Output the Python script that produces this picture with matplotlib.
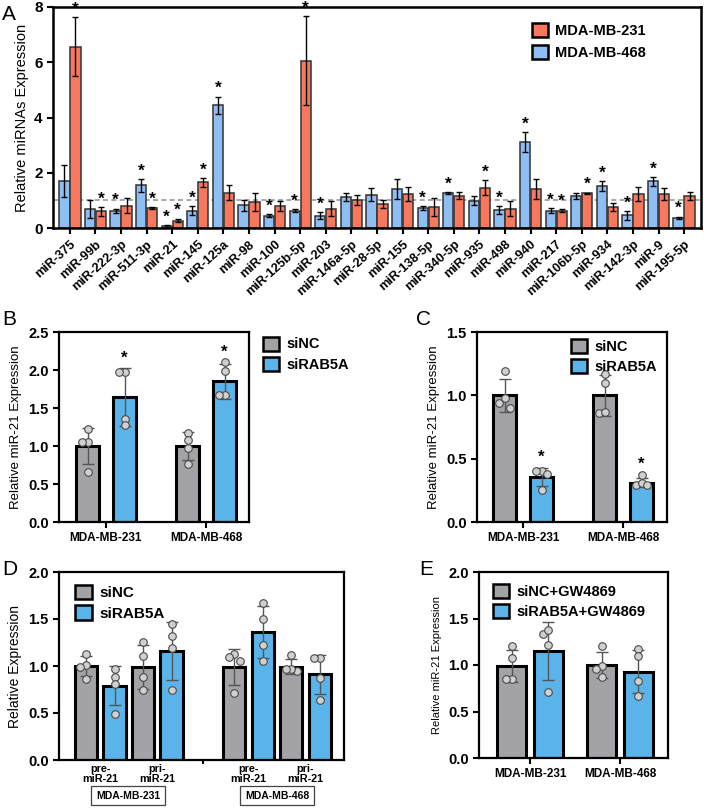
import matplotlib
matplotlib.use("Agg")
import matplotlib.pyplot as plt
from matplotlib.patches import Patch
from matplotlib.transforms import blended_transform_factory
import numpy as np

plt.rcParams['font.family'] = ['Liberation Sans', 'DejaVu Sans']

# ---------------- Panel A data ----------------
mirnas = ["miR-375", "miR-99b", "miR-222-3p", "miR-511-3p", "miR-21", "miR-145", "miR-125a",
          "miR-98", "miR-100", "miR-125b-5p", "miR-203", "miR-146a-5p", "miR-28-5p", "miR-155",
          "miR-138-5p", "miR-340-5p", "miR-935", "miR-498", "miR-940", "miR-217", "miR-106b-5p",
          "miR-934", "miR-142-3p", "miR-9", "miR-195-5p"]
mb468_vals = [1.69, 0.69, 0.63, 1.54, 0.08, 0.63, 4.44, 0.82, 0.45, 0.63, 0.45, 1.12, 1.21, 1.42,
              0.72, 1.27, 0.99, 0.66, 3.11, 0.63, 1.17, 1.51, 0.46, 1.69, 0.36]
mb468_err = [0.58, 0.33, 0.07, 0.24, 0.035, 0.17, 0.32, 0.21, 0.06, 0.05, 0.12, 0.16, 0.23, 0.36,
             0.08, 0.035, 0.16, 0.14, 0.36, 0.08, 0.11, 0.18, 0.16, 0.16, 0.05]
mb231_vals = [6.57, 0.60, 0.81, 0.72, 0.27, 1.65, 1.27, 0.94, 0.78, 6.06, 0.70, 1.03, 0.87, 1.23,
              0.76, 1.17, 1.45, 0.70, 1.41, 0.63, 1.25, 0.75, 1.23, 1.24, 1.16]
mb231_err = [1.05, 0.15, 0.28, 0.035, 0.07, 0.15, 0.27, 0.32, 0.18, 1.6, 0.26, 0.18, 0.16, 0.27,
             0.33, 0.13, 0.27, 0.28, 0.36, 0.06, 0.025, 0.15, 0.27, 0.22, 0.13]
mb468_sig = [0, 0, 1, 1, 1, 1, 1, 0, 1, 1, 1, 0, 0, 0, 1, 1, 0, 1, 1, 1, 0, 1, 1, 1, 1]
mb231_sig = [1, 1, 0, 1, 1, 1, 0, 0, 0, 1, 0, 0, 0, 0, 0, 0, 1, 0, 0, 1, 1, 0, 0, 0, 0]

# ---------------- Panel B data ----------------
cells = ["MDA-MB-231", "MDA-MB-468"]
b_nc_mean = [1.00, 1.00]
b_nc_sd = [0.24, 0.18]
b_nc_pts = [[1.23, 1.05, 1.05, 0.66], [1.17, 1.08, 0.98, 0.76]]
b_si_mean = [1.64, 1.85]
b_si_sd = [0.38, 0.23]
b_si_pts = [[1.97, 1.97, 1.35, 1.28], [2.10, 1.99, 1.67, 1.67]]

# ---------------- Panel C data ----------------
c_nc_mean = [1.00, 1.00]
c_nc_sd = [0.13, 0.16]
c_nc_pts = [[1.19, 0.98, 0.94, 0.90], [1.17, 1.10, 0.86, 0.87]]
c_si_mean = [0.355, 0.31]
c_si_sd = [0.07, 0.035]
c_si_pts = [[0.40, 0.38, 0.40, 0.25], [0.37, 0.29, 0.31, 0.29]]

# ---------------- Panel D data ----------------
d_groups = ["pre-\nmiR-21", "pri-\nmiR-21", "pre-\nmiR-21", "pri-\nmiR-21"]
d_cells = ["MDA-MB-231", "MDA-MB-468"]
d_nc_mean = [1.00, 0.99, 0.99, 0.99]
d_nc_sd = [0.11, 0.23, 0.19, 0.08]
d_nc_pts = [[1.13, 1.01, 0.99, 0.86], [1.26, 1.11, 0.88, 0.74], [1.13, 1.05, 1.10, 0.71],
            [1.12, 0.95, 0.97, 0.97]]
d_si_mean = [0.79, 1.16, 1.36, 0.91]
d_si_sd = [0.21, 0.31, 0.28, 0.21]
d_si_pts = [[0.97, 0.88, 0.81, 0.49], [1.45, 1.32, 1.19, 0.74], [1.67, 1.50, 1.22, 1.05],
            [1.09, 1.09, 0.87, 0.64]]

# ---------------- Panel E data ----------------
e_nc_mean = [0.99, 1.00]
e_nc_sd = [0.17, 0.14]
e_nc_pts = [[1.20, 1.07, 0.85, 0.85], [1.20, 0.99, 0.96, 0.87]]
e_si_mean = [1.15, 0.93]
e_si_sd = [0.31, 0.23]
e_si_pts = [[1.33, 1.38, 1.22, 0.71], [1.17, 1.10, 0.83, 0.67]]

RED = "#F7785C"
LBLUE = "#8DBFF5"
GRAY = "#A3A3A7"
BLUE = "#5AB4E9"
PT_FACE = "#D0D0D0"
PT_EDGE = "#4A4A4A"

W, H = 704, 810
fig = plt.figure(figsize=(W / 100, H / 100), dpi=100)


def add_ax(x0, y0, x1, y1):
    return fig.add_axes([x0 / W, 1 - y1 / H, (x1 - x0) / W, (y1 - y0) / H])


def style_box(ax, lw=1.8):
    for s in ax.spines.values():
        s.set_linewidth(lw)
        s.set_color("black")


def swarm_offsets(vals, step):
    vals = np.asarray(vals, dtype=float)
    offs = np.zeros(len(vals))
    order = np.argsort(-vals)
    placed = []
    for i in order:
        near = [j for j in placed if abs(vals[j] - vals[i]) < 0.06]
        if near:
            cand = [step * m for m in (-1, 1, -2, 2, 0)]
            used = [offs[j] for j in near]
            for c in cand:
                if all(abs(c - u) > step * 0.9 for u in used):
                    offs[i] = c
                    break
        placed.append(i)
    return offs


def bars_with_points(ax, xs, means, sds, pts, color, width, step):
    ax.bar(xs, means, width=width, color=color, edgecolor="black", linewidth=2.2, zorder=2)
    ax.errorbar(xs, means, yerr=sds, fmt="none", ecolor="#555555", elinewidth=1.0,
                capsize=4.5, capthick=1.0, zorder=3)
    for x, p in zip(xs, pts):
        offs = swarm_offsets(p, step)
        ax.scatter(x + offs, p, s=30, facecolor=PT_FACE, edgecolor=PT_EDGE,
                   linewidth=0.8, zorder=4)


def small_legend(ax, labels, loc, anchor=None, fs=10.5):
    handles = [Patch(facecolor=GRAY, edgecolor="black", linewidth=1.8),
               Patch(facecolor=BLUE, edgecolor="black", linewidth=1.8)]
    kw = dict(frameon=False, handlelength=1.1, handleheight=1.1, handletextpad=0.5,
              labelspacing=0.35, borderaxespad=0.3,
              prop={"weight": "bold", "size": fs})
    if anchor is not None:
        kw["bbox_to_anchor"] = anchor
    return ax.legend(handles, labels, loc=loc, **kw)


def bold_yticks(ax, size=10.5):
    ax.tick_params(axis="y", labelsize=size, width=1.5, length=4)
    for lab in ax.get_yticklabels():
        lab.set_fontweight("bold")


# ================= Panel A =================
axA = add_ax(53, 7, 701, 228)
n = len(mirnas)
xg = np.arange(n)
bw = 0.40
off = 0.215
axA.bar(xg - off, mb468_vals, width=bw, color=LBLUE, edgecolor="#333333", linewidth=1.1, zorder=2)
axA.bar(xg + off, mb231_vals, width=bw, color=RED, edgecolor="#333333", linewidth=1.1, zorder=2)
axA.errorbar(xg - off, mb468_vals, yerr=mb468_err, fmt="none", ecolor="black", elinewidth=1.0,
             capsize=2.5, capthick=1.0, zorder=3)
axA.errorbar(xg + off, mb231_vals, yerr=mb231_err, fmt="none", ecolor="black", elinewidth=1.0,
             capsize=2.5, capthick=1.0, zorder=3)
for i in range(n):
    if mb468_sig[i]:
        axA.text(xg[i] - off, mb468_vals[i] + mb468_err[i] + 0.02, "*", ha="center", va="bottom",
                 fontsize=12.5, fontweight="bold")
    if mb231_sig[i]:
        axA.text(xg[i] + off, mb231_vals[i] + mb231_err[i] + 0.02, "*", ha="center", va="bottom",
                 fontsize=12.5, fontweight="bold")
axA.axhline(1.0, color="#9A9A9A", linestyle=(0, (3, 2)), linewidth=1.2, zorder=1)
axA.set_xlim(-0.66, n - 1 + 0.66)
axA.set_ylim(0, 8)
axA.set_yticks([0, 2, 4, 6, 8])
axA.set_xticks(xg)
axA.set_xticklabels(mirnas, rotation=42, ha="right", rotation_mode="anchor", fontsize=9.2,
                    fontweight="bold")
axA.tick_params(axis="x", width=1.5, length=4)
bold_yticks(axA, 11)
axA.set_ylabel("Relative miRNAs Expression", fontsize=10.5, labelpad=4)
style_box(axA, 1.8)
hA = [Patch(facecolor=RED, edgecolor="black", linewidth=1.8),
      Patch(facecolor=LBLUE, edgecolor="black", linewidth=1.8)]
axA.legend(hA, ["MDA-MB-231", "MDA-MB-468"], loc="upper right", bbox_to_anchor=(0.935, 0.985),
           frameon=False, handlelength=1.1, handleheight=1.1, handletextpad=0.5,
           labelspacing=0.45, prop={"weight": "bold", "size": 10.5})

# ================= Panel B =================
axB = add_ax(59, 332, 249, 522)
gx = np.arange(2)
bars_with_points(axB, gx - 0.185, b_nc_mean, b_nc_sd, b_nc_pts, GRAY, 0.23, 0.055)
bars_with_points(axB, gx + 0.185, b_si_mean, b_si_sd, b_si_pts, BLUE, 0.23, 0.055)
for i in range(2):
    top = max(b_si_mean[i] + b_si_sd[i], max(b_si_pts[i]))
    axB.text(gx[i] + 0.185, top + 0.04, "*", ha="center", va="bottom", fontsize=12, fontweight="bold")
axB.set_xlim(-0.47, 1.43)
axB.set_ylim(0, 2.5)
axB.set_yticks([0, 0.5, 1.0, 1.5, 2.0, 2.5])
axB.set_yticklabels(["0.0", "0.5", "1.0", "1.5", "2.0", "2.5"])
axB.set_xticks(gx)
axB.set_xticklabels(cells, fontsize=8.5, fontweight="bold")
axB.tick_params(axis="x", width=1.5, length=4)
bold_yticks(axB)
axB.set_ylabel("Relative miR-21 Expression", fontsize=9.5, labelpad=4)
style_box(axB, 1.6)
small_legend(axB, ["siNC", "siRAB5A"], "upper left", anchor=(1.02, 1.03), fs=10.5)

# ================= Panel C =================
axC = add_ax(477, 332, 667, 522)
bars_with_points(axC, gx - 0.185, c_nc_mean, c_nc_sd, c_nc_pts, GRAY, 0.23, 0.055)
bars_with_points(axC, gx + 0.185, c_si_mean, c_si_sd, c_si_pts, BLUE, 0.23, 0.055)
for i in range(2):
    top = max(c_si_mean[i] + c_si_sd[i], max(c_si_pts[i]))
    axC.text(gx[i] + 0.185, top + 0.03, "*", ha="center", va="bottom", fontsize=12, fontweight="bold")
axC.set_xlim(-0.46, 1.44)
axC.set_ylim(0, 1.5)
axC.set_yticks([0, 0.5, 1.0, 1.5])
axC.set_yticklabels(["0.0", "0.5", "1.0", "1.5"])
axC.set_xticks(gx)
axC.set_xticklabels(cells, fontsize=8.5, fontweight="bold")
axC.tick_params(axis="x", width=1.5, length=4)
bold_yticks(axC)
axC.set_ylabel("Relative miR-21 Expression", fontsize=9.5, labelpad=4)
style_box(axC, 1.6)
small_legend(axC, ["siNC", "siRAB5A"], "upper right", anchor=(1.0, 1.015), fs=10.5)

# ================= Panel D =================
axD = add_ax(59, 572, 344, 760)
dpos = np.array([0.0, 2.0, 5.2, 7.2])
bars_with_points(axD, dpos, d_nc_mean, d_nc_sd, d_nc_pts, GRAY, 0.78, 0.2)
bars_with_points(axD, dpos + 1.0, d_si_mean, d_si_sd, d_si_pts, BLUE, 0.78, 0.2)
axD.set_xlim(-0.95, 9.05)
axD.set_ylim(0, 2.0)
axD.set_yticks([0, 0.5, 1.0, 1.5, 2.0])
axD.set_yticklabels(["0.0", "0.5", "1.0", "1.5", "2.0"])
axD.set_xticks(dpos + 0.5)
axD.set_xticklabels(d_groups, fontsize=7.8, fontweight="bold", linespacing=1.0)
axD.set_xticks([4.12], minor=True)
axD.tick_params(axis="x", which="major", length=0, pad=3)
axD.tick_params(axis="x", which="minor", length=3, width=1.5)
bold_yticks(axD)
axD.set_ylabel("Relative Expression", fontsize=10, labelpad=4)
style_box(axD, 1.6)
small_legend(axD, ["siNC", "siRAB5A"], "upper left", anchor=(0.02, 0.99), fs=11)
trD = blended_transform_factory(axD.transData, axD.transAxes)
for cx, lab in zip([1.47, 6.7], d_cells):
    axD.text(cx, -0.19, lab, transform=trD, ha="center", va="center", fontsize=7.5,
             fontweight="bold",
             bbox=dict(boxstyle="square,pad=0.45", facecolor="white", edgecolor="#444444",
                       linewidth=0.9))

# ================= Panel E =================
axE = add_ax(479, 572, 668, 758)
bars_with_points(axE, gx - 0.205, e_nc_mean, e_nc_sd, e_nc_pts, GRAY, 0.32, 0.06)
bars_with_points(axE, gx + 0.205, e_si_mean, e_si_sd, e_si_pts, BLUE, 0.32, 0.06)
axE.set_xlim(-0.567, 1.533)
axE.set_ylim(0, 2.0)
axE.set_yticks([0, 0.5, 1.0, 1.5, 2.0])
axE.set_yticklabels(["0.0", "0.5", "1.0", "1.5", "2.0"])
axE.set_xticks(gx)
axE.set_xticklabels(cells, fontsize=8.5, fontweight="bold")
axE.tick_params(axis="x", width=1.5, length=4)
bold_yticks(axE)
axE.set_ylabel("Relative miR-21 Expression", fontsize=8, labelpad=4)
style_box(axE, 1.6)
small_legend(axE, ["siNC+GW4869", "siRAB5A+GW4869"], "upper left", anchor=(0.02, 0.99), fs=10.5)

# ================= Panel letters =================
for lx, ly, letter in [(2, 20, "A"), (2, 325, "B"), (416, 325, "C"), (2, 575, "D"), (419, 575, "E")]:
    fig.text(lx / W, 1 - ly / H, letter, fontsize=15, ha="left", va="baseline")

fig.savefig("out.png", dpi=100)
